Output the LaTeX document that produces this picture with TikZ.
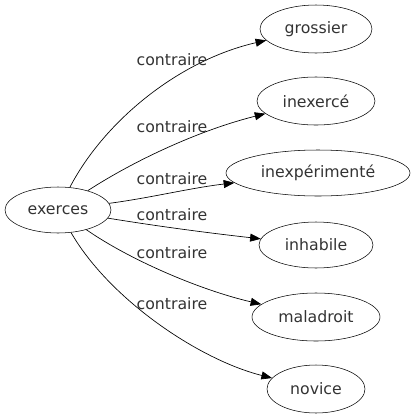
\documentclass[tikz,border=0pt]{standalone}
\usepackage{fontspec}
\setmainfont{DejaVu Sans}
\usetikzlibrary{arrows.meta,shapes.geometric}
\definecolor{txt}{HTML}{333333}
\begin{document}
\begin{tikzpicture}[x=0.75pt,y=-0.75pt,
  word/.style={draw,ellipse,inner sep=0pt,text=txt,font=\fontsize{11.8pt}{14pt}\selectfont},
  lab/.style={text=txt,font=\fontsize{11.8pt}{14pt}\selectfont},
  rel/.style={-{Triangle[length=8pt,width=6pt]},line width=0.5pt}]
\useasboundingbox (0,0) rectangle (412,419);
\node[word,minimum width=79.5pt,minimum height=34.5pt] (ex) at (58,210) {exerces};
\node[word,minimum width=84pt,minimum height=36pt] (g) at (316,29) {grossier};
\node[word,minimum width=88.5pt,minimum height=36pt] (ie) at (316,101) {inexercé};
\node[word,minimum width=138pt,minimum height=34.5pt] (ix) at (318,173) {inexpérimenté};
\node[word,minimum width=85.5pt,minimum height=34.5pt] (ih) at (316,245) {inhabile};
\node[word,minimum width=96pt,minimum height=36pt] (ma) at (316,317) {maladroit};
\node[word,minimum width=73.5pt,minimum height=36pt] (no) at (316,389) {novice};
\draw[rel] (ex) .. controls (105,120) and (180,60) .. (g);
\draw[rel] (ex) .. controls (135,160) and (200,130) .. (ie);
\draw[rel] (ex) .. controls (150,198) and (190,188) .. (ix);
\draw[rel] (ex) .. controls (150,225) and (200,232) .. (ih);
\draw[rel] (ex) .. controls (130,260) and (200,290) .. (ma);
\draw[rel] (ex) .. controls (110,300) and (200,360) .. (no);
\node[lab] (l1) at (172,60) {contraire};
\node[lab] (l2) at (172,127) {contraire};
\node[lab] (l3) at (172,179) {contraire};
\node[lab] (l4) at (172,215) {contraire};
\node[lab] (l5) at (172,253) {contraire};
\node[lab] (l6) at (172,304) {contraire};
\end{tikzpicture}
\end{document}
